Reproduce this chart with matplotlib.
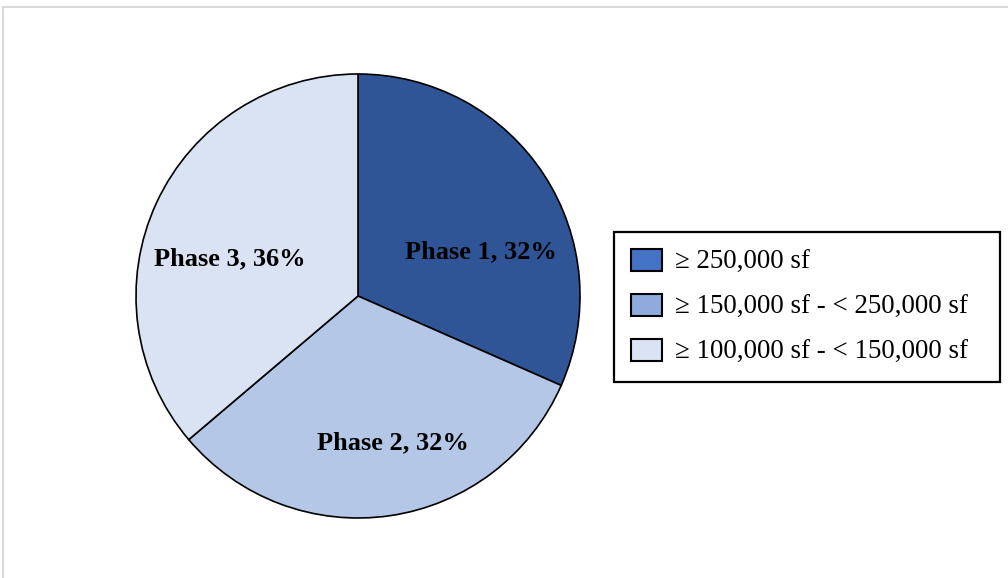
import numpy as np
import matplotlib.pyplot as plt
from matplotlib.patches import Patch
from matplotlib.lines import Line2D

plt.rcParams['font.family'] = ['Liberation Serif', 'DejaVu Serif']

# data
phases = ['Phase 1', 'Phase 2', 'Phase 3']
shares = [31.6, 32.2, 36.2]
pct_labels = ['32%', '32%', '36%']
legend_labels = ['\u2265 250,000 sf',
                 '\u2265 150,000 sf - < 250,000 sf',
                 '\u2265 100,000 sf - < 150,000 sf']

pie_colors = ['#2F5597', '#B4C7E7', '#DAE3F3']
legend_colors = ['#4472C4', '#8FAADC', '#DAE3F3']
# label spots (radius fraction, angle in degrees), Excel "best fit" style
label_spots = [(0.59, 19.7), (0.68, -76.6), (0.60, 164.0)]

W, H = 1008, 578
fig = plt.figure(figsize=(W / 100, H / 100), dpi=100)

cx, cy, r = 358, 296, 222
ax = fig.add_axes([(cx - r) / W, (H - cy - r) / H, 2 * r / W, 2 * r / H])
wedges, _ = ax.pie(shares, colors=pie_colors, startangle=90, counterclock=False,
                   wedgeprops=dict(edgecolor='black', linewidth=1.2))
ax.set_xlim(-1, 1)
ax.set_ylim(-1, 1)
ax.set_aspect('equal')
ax.axis('off')

for name, pct, (rr, ang) in zip(phases, pct_labels, label_spots):
    a = np.deg2rad(ang)
    ax.text(rr * np.cos(a), rr * np.sin(a), f'{name}, {pct}',
            ha='center', va='center', fontsize=19, fontweight='bold')

handles = [Patch(facecolor=c, edgecolor='black', linewidth=1.5) for c in legend_colors]
leg = fig.legend(handles, legend_labels, loc='upper left',
                 bbox_to_anchor=(614 / W, 1 - 232 / H - 0.01, 386 / W, 0.01), mode='expand',
                 fontsize=19.4, frameon=True, fancybox=False, framealpha=1,
                 borderpad=0.62, handlelength=1.15, handleheight=0.88,
                 handletextpad=0.5, labelspacing=0.7, borderaxespad=0)
leg.get_frame().set_edgecolor('black')
leg.get_frame().set_linewidth(1.6)

# light gray outer frame (top and left edges visible)
fig.add_artist(Line2D([3 / W, 1], [1 - 7 / H, 1 - 7 / H], color='#D9D9D9', lw=1.5))
fig.add_artist(Line2D([3 / W, 3 / W], [0, 1 - 7 / H], color='#D9D9D9', lw=1.5))

fig.savefig('out.png', dpi=100)
